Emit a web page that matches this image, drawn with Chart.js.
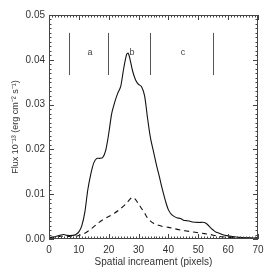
<!DOCTYPE html>
<html>
<head>
<meta charset="utf-8">
<script src="https://cdn.jsdelivr.net/npm/chart.js@4.4.1/dist/chart.umd.min.js"></script>
<style>
  html, body { margin: 0; padding: 0; background: #fff; }
  #wrap { width: 273px; height: 273px; }
</style>
</head>
<body>
<div id="wrap"><canvas id="fluxChart"></canvas></div>
<script>
// total flux profile (solid)
const solidX = [0, 2, 4, 5, 6, 8, 9, 10, 11, 12, 13, 14, 15, 16, 17, 18, 19, 20, 21, 22, 23, 24, 25, 26, 26.5, 27, 28, 29, 30, 31, 32, 33, 34, 35, 36, 37, 38, 39, 40, 41, 42, 43, 44, 45, 46, 47, 48, 50, 52, 53, 54, 55, 56, 57, 58, 60, 62, 65, 68, 70];
const solidY = [0.0003, 0.0005, 0.0009, 0.001, 0.0008, 0.0008, 0.001, 0.0016, 0.003, 0.006, 0.011, 0.0145, 0.017, 0.018, 0.018, 0.0182, 0.0198, 0.0235, 0.028, 0.0305, 0.0325, 0.034, 0.038, 0.0412, 0.0415, 0.0405, 0.0375, 0.0355, 0.0345, 0.034, 0.032, 0.027, 0.0225, 0.0195, 0.0165, 0.0138, 0.011, 0.0085, 0.0065, 0.0055, 0.005, 0.0047, 0.0046, 0.0042, 0.0041, 0.004, 0.0038, 0.0037, 0.0037, 0.0033, 0.0026, 0.002, 0.0015, 0.0013, 0.001, 0.0007, 0.0005, 0.0003, 0.0002, 0.0003];

// second profile (dashed)
const dashX = [0, 2, 4, 6, 8, 10, 12, 14, 16, 18, 20, 22, 24, 26, 27, 28, 29, 30, 31, 32, 33, 34, 35, 36, 38, 40, 42, 44, 46, 48, 50, 52, 54, 56, 58, 60, 62, 66, 70];
const dashY = [0.0002, 0.0004, 0.0006, 0.0006, 0.0005, 0.0008, 0.0013, 0.0022, 0.0033, 0.0043, 0.005, 0.0058, 0.0068, 0.008, 0.0088, 0.0093, 0.0088, 0.0078, 0.0068, 0.0058, 0.0047, 0.004, 0.0035, 0.0032, 0.0028, 0.0026, 0.0023, 0.002, 0.0018, 0.0016, 0.0014, 0.0012, 0.001, 0.0007, 0.0005, 0.0004, 0.0003, 0.0002, 0.0002];

// region dividers and labels
const dividerX = [6.8, 19.9, 33.8, 55];
const dividerY = [0.0366, 0.046];
const regionNames = ["a", "b", "c"];
const regionX = [13.7, 27.8, 44.9];
const regionY = 0.0417;

const toPoints = (xs, ys) => xs.map((x, i) => ({x: x, y: ys[i]}));

const FONT = "'Liberation Sans', Arial, Helvetica, sans-serif";

// inward ticks, frame, dividers and region letters
const decorations = {
    id: "decorations",
    afterDatasetsDraw(chart) {
        const {ctx, chartArea: a, scales: {x, y}} = chart;
        ctx.save();
        ctx.strokeStyle = "#444";
        ctx.lineWidth = 1;
        ctx.beginPath();
        ctx.rect(a.left + 0.5, a.top + 0.5, a.right - a.left - 1, a.bottom - a.top - 1);
        ctx.stroke();

        ctx.beginPath();
        for (let v = 0; v <= 70; v++) {
            const px = Math.round(x.getPixelForValue(v)) + 0.5;
            const len = v % 10 === 0 ? 5 : 2.5;
            ctx.moveTo(px, a.bottom); ctx.lineTo(px, a.bottom - len);
            ctx.moveTo(px, a.top); ctx.lineTo(px, a.top + len);
        }
        for (let k = 0; k <= 50; k++) {
            const py = Math.round(y.getPixelForValue(k / 1000)) + 0.5;
            const len = k % 10 === 0 ? 5 : 2.5;
            ctx.moveTo(a.left, py); ctx.lineTo(a.left + len, py);
            ctx.moveTo(a.right, py); ctx.lineTo(a.right - len, py);
        }
        ctx.stroke();

        ctx.strokeStyle = "#555";
        ctx.beginPath();
        dividerX.forEach(v => {
            const px = Math.round(x.getPixelForValue(v)) + 0.5;
            ctx.moveTo(px, y.getPixelForValue(dividerY[0]));
            ctx.lineTo(px, y.getPixelForValue(dividerY[1]));
        });
        ctx.stroke();

        ctx.fillStyle = "#444";
        ctx.font = "9px " + FONT;
        ctx.textAlign = "center";
        ctx.textBaseline = "middle";
        regionNames.forEach((n, i) => {
            ctx.fillText(n, x.getPixelForValue(regionX[i]), y.getPixelForValue(regionY));
        });
        ctx.restore();
    }
};

const ctx = document.getElementById("fluxChart").getContext("2d");
new Chart(ctx, {
    type: "line",
    data: {
        datasets: [
            {
                data: toPoints(solidX, solidY),
                borderColor: "#111",
                borderWidth: 1.1,
                pointRadius: 0,
                tension: 0.3
            },
            {
                data: toPoints(dashX, dashY),
                borderColor: "#111",
                borderWidth: 1.1,
                borderDash: [5, 4],
                pointRadius: 0,
                tension: 0.3
            }
        ]
    },
    options: {
        responsive: true,
        maintainAspectRatio: false,
        animation: false,
        layout: { padding: { top: 15, right: 15, left: 0, bottom: 0 } },
        plugins: { legend: { display: false }, tooltip: { enabled: false } },
        scales: {
            x: {
                type: "linear",
                min: 0,
                max: 70,
                grid: { display: false, drawTicks: false },
                border: { display: false },
                afterFit: s => { s.height = 34; },
                ticks: {
                    stepSize: 10,
                    padding: 5,
                    color: "#333",
                    font: { family: FONT, size: 10 },
                    maxRotation: 0
                },
                title: {
                    display: true,
                    text: "Spatial increament (pixels)",
                    color: "#333",
                    font: { family: FONT, size: 10 },
                    padding: { top: 1, bottom: 5 }
                }
            },
            y: {
                min: 0,
                max: 0.05,
                grid: { display: false, drawTicks: false },
                border: { display: false },
                afterFit: s => { s.width = 49; },
                ticks: {
                    stepSize: 0.01,
                    padding: 4,
                    color: "#333",
                    font: { family: FONT, size: 10 },
                    callback: v => v.toFixed(2)
                },
                title: {
                    display: true,
                    text: "Flux 10⁻¹³ (erg cm⁻² s⁻¹)",
                    color: "#333",
                    font: { family: FONT, size: 9 },
                    padding: { top: 10, bottom: 4 }
                }
            }
        }
    },
    plugins: [decorations]
});
</script>
</body>
</html>
